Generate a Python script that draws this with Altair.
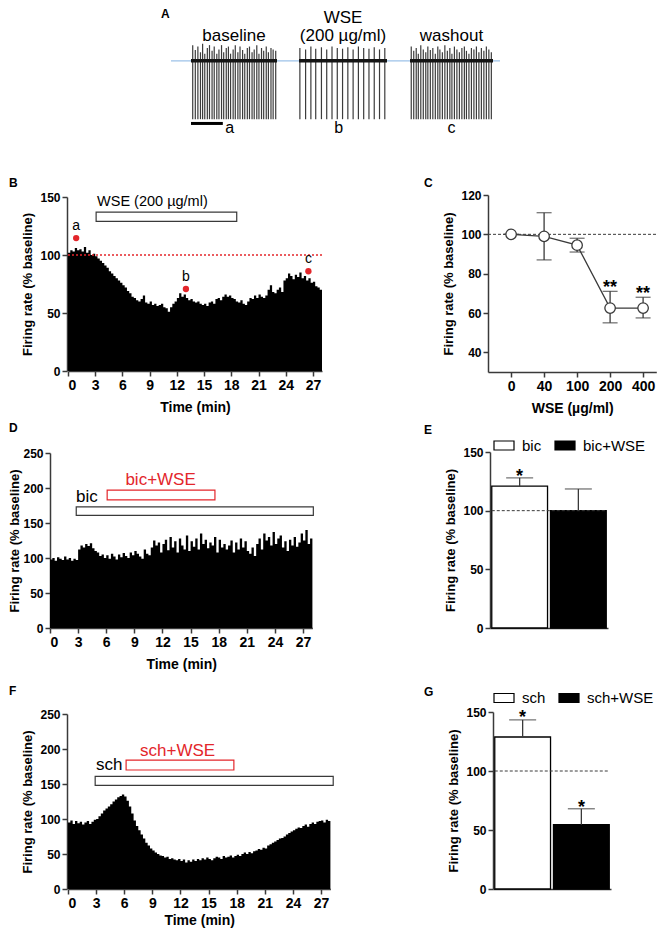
import altair as alt
import pandas as pd

W, H = 650, 920
FONT = "Liberation Sans"
AX = "#3a3a3a"
RED = "#e3262b"
BIN = 0.25
RECT_PATH = "M-1,-0.45L1,-0.45L1,0.45L-1,0.45Z"


def px(x):
    return x - 8


def py(y):
    return y - 8


# ---------------- data ----------------
# Panel A: spike times (fraction of displayed window) and spike peaks
base_t = [0.02, 0.05, 0.08, 0.11, 0.135, 0.16, 0.19, 0.215, 0.245, 0.27, 0.30, 0.325,
          0.355, 0.38, 0.41, 0.435, 0.46, 0.49, 0.515, 0.545, 0.57, 0.60, 0.625, 0.655,
          0.68, 0.71, 0.735, 0.765, 0.79, 0.82, 0.845, 0.875, 0.90, 0.93, 0.955, 0.985]
base_top = [0.22, 0.15, 0.2, 0.12, 0.24, 0.1, 0.18, 0.22, 0.14, 0.2, 0.1, 0.16,
            0.22, 0.12, 0.18, 0.2, 0.1, 0.16, 0.22, 0.12, 0.2, 0.15, 0.1, 0.18,
            0.2, 0.12, 0.16, 0.22, 0.1, 0.18, 0.14, 0.2, 0.12, 0.18, 0.16, 0.14]
wse_t = [0.01, 0.075, 0.135, 0.19, 0.255, 0.315, 0.375, 0.435, 0.495, 0.555, 0.615,
         0.675, 0.735, 0.795, 0.855, 0.915, 0.975]
wse_top = [0.18, 0.16, 0.2, 0.17, 0.19, 0.16, 0.2, 0.18, 0.17, 0.19, 0.16, 0.2, 0.18,
           0.17, 0.19, 0.16, 0.18]
wash_t = [0.015, 0.045, 0.075, 0.10, 0.13, 0.16, 0.19, 0.215, 0.245, 0.275, 0.305,
          0.335, 0.36, 0.39, 0.42, 0.45, 0.48, 0.505, 0.535, 0.565, 0.595, 0.625,
          0.655, 0.68, 0.71, 0.74, 0.77, 0.80, 0.83, 0.86, 0.89, 0.92, 0.95, 0.98]
wash_top = [0.2, 0.14, 0.18, 0.1, 0.22, 0.16, 0.12, 0.2, 0.15, 0.18, 0.1, 0.2, 0.16,
            0.12, 0.22, 0.14, 0.18, 0.1, 0.2, 0.16, 0.12, 0.18, 0.2, 0.14, 0.1, 0.18,
            0.16, 0.2, 0.12, 0.18, 0.14, 0.2, 0.16, 0.12]
spike_trough = -0.82

# Panel B: firing rate histogram, 0.25-min bins
b_vals = [102, 104, 103, 106, 104, 105, 103, 107, 102, 104, 100, 101,
          99, 97, 95, 93, 91, 89, 86, 84, 82, 80, 78, 76,
          74, 72, 69, 67, 64, 63, 61, 60, 62, 65, 59, 58,
          60, 57, 58, 56, 57, 58, 55, 54, 51, 55, 58, 60,
          63, 67, 64, 66, 63, 61, 62, 60, 59, 60, 58, 57,
          58, 56, 59, 60, 58, 62, 63, 61, 64, 66, 64, 65,
          63, 62, 60, 59, 61, 58, 57, 60, 63, 62, 65, 63,
          66, 64, 63, 65, 70, 74, 68, 67, 70, 72, 68, 78,
          80, 84, 82, 79, 83, 81, 85, 80, 82, 78, 80, 76,
          77, 73, 72, 70]
b_marks_t = [0.9, 13.0, 26.5]
b_marks_v = [114.6, 70.7, 86]
b_marks_lab = ["a", "b", "c"]
b_drug = [3.1, 18.6, 129, 137]  # start, end, low, high

# Panel C: dose response
c_dose = ["0", "40", "100", "200", "400"]
c_mean = [100, 99, 94.5, 62.5, 62.5]
c_lo = [100, 87, 91, 55, 57.5]
c_hi = [100, 111, 98, 71, 68]
c_sig = ["", "", "", "**", "**"]
c_sig_y = [None, None, None, 75.5, 72]

# Panel D: bicuculline histogram
d_vals = [98, 100, 96, 101, 99, 97, 102, 98, 100, 96, 99, 97,
          112, 118, 115, 120, 117, 121, 114, 110, 108, 103, 105, 100,
          104, 99, 106, 102, 98, 105, 101, 107, 103, 100, 108, 104,
          110, 106, 102, 99, 112, 106, 104, 115, 125, 118, 122, 108,
          120, 126, 111, 130, 115, 124, 108, 128, 118, 112, 132, 110,
          124, 116, 128, 112, 135, 120, 126, 114, 122, 118, 130, 108,
          126, 115, 120, 112, 118, 125, 108, 122, 112, 128, 115, 124,
          110, 106, 115, 103, 120, 128, 112, 135, 125, 130, 118, 137,
          120, 128, 132, 115, 124, 110, 126, 118, 130, 116, 122, 135,
          125, 140, 120, 128]
d_bic = [2.8, 28.1, 161, 173]
d_bicwse = [6.1, 17.6, 183, 197]

# Panel E
e_groups = ["bic", "bic+WSE"]
e_mean = [121, 100]
e_hi = [128, 118.5]
e_sig = ["*", ""]
e_sig_y = [133, None]

# Panel F: SCH histogram
f_vals = [95, 98, 93, 97, 94, 96, 92, 95, 97, 93, 96, 99,
          100, 104, 108, 112, 115, 118, 121, 125, 128, 131, 133, 135,
          132, 126, 118, 108, 98, 90, 84, 78, 72, 66, 62, 58,
          55, 52, 50, 48, 47, 45, 46, 43, 44, 42, 41, 43,
          40, 42, 38, 41, 39, 42, 40, 43, 41, 44, 42, 45,
          43, 41, 44, 46, 45, 43, 47, 45, 46, 48, 45, 47,
          49, 47, 50, 52, 50, 53, 51, 54, 55, 57, 56, 59,
          58, 62, 64, 66, 68, 70, 72, 73, 75, 78, 80, 82,
          84, 86, 88, 87, 90, 92, 89, 93, 95, 93, 96, 97,
          98, 95, 99, 97]
f_sch = [2.9, 28.3, 148, 161]
f_schwse = [6.2, 17.7, 170, 184]

# Panel G
g_groups = ["sch", "sch+WSE"]
g_mean = [128.8, 54.5]
g_hi = [143.3, 68]
g_sig = ["*", "*"]
g_sig_y = [149, 73]

# ---------------- helpers ----------------
def x_axis(ypage, title, values, size=14, pad=8, **kw):
    return alt.Axis(orient="bottom", offset=py(ypage) - H, title=title, values=values,
                    labelFontSize=size, titleFontSize=14, titlePadding=pad, **kw)


def y_axis(xpage, values, tpad=5):
    return alt.Axis(orient="left", offset=-px(xpage), values=values,
                    title="Firing rate (% baseline)", labelFontSize=12,
                    titleFontSize=13, titlePadding=tpad)


def lin(domain, r0, r1):
    return alt.Scale(domain=domain, range=[r0, r1], nice=False, zero=False)


def letter(ch, xpage, ypage):
    return alt.Chart(pd.DataFrame({"k": [0]})).mark_text(
        text=ch, fontSize=12, fontWeight="bold", align="left", baseline="top", font=FONT
    ).encode(x=alt.value(px(xpage)), y=alt.value(py(ypage)))


layers = []

# ---------------- Panel A ----------------
ya = lin([-1.0, 0.25], py(132), py(43))
layers.append(
    alt.Chart(pd.DataFrame({"v": [0]})).mark_rule(color="#9cc2e8", strokeWidth=1.2).encode(
        x=alt.value(px(171)), x2=alt.value(px(500)),
        y=alt.Y("v:Q", scale=ya, axis=None))
)
trace_defs = [(base_t, base_top, 191, 277, "baseline", None, "a", 0.45),
              (wse_t, wse_top, 299, 387, "WSE", "(200 µg/ml)", "b", 0.45),
              (wash_t, wash_top, 410, 493, "washout", None, "c", 0.5)]
for ts, tops, x0, x1, lab1, lab2, sub, subx in trace_defs:
    xs = lin([0, 1], px(x0), px(x1))
    sdf = pd.DataFrame({"t": ts, "top": tops, "bot": [spike_trough] * len(ts)})
    layers.append(alt.Chart(sdf).mark_rule(color="#3c3c3c", strokeWidth=1.2).encode(
        x=alt.X("t:Q", scale=xs, axis=None),
        y=alt.Y("top:Q", scale=ya, axis=None), y2="bot:Q"))
    layers.append(alt.Chart(pd.DataFrame({"t0": [0], "t1": [1], "v": [0]})).mark_rule(
        color="#151515", strokeWidth=3.5).encode(
        x=alt.X("t0:Q", scale=xs, axis=None), x2="t1:Q",
        y=alt.Y("v:Q", scale=ya, axis=None)))
    if lab2 is None:
        tdf = pd.DataFrame({"t": [0.5], "v": [0.35], "s": [lab1]})
    else:
        tdf = pd.DataFrame({"t": [0.5, 0.5], "v": [0.6, 0.35], "s": [lab1, lab2]})
    layers.append(alt.Chart(tdf).mark_text(fontSize=17, font=FONT, baseline="middle").encode(
        x=alt.X("t:Q", scale=xs, axis=None), y=alt.Y("v:Q", scale=ya, axis=None), text="s:N"))
    layers.append(alt.Chart(pd.DataFrame({"t": [subx], "v": [-0.95], "s": [sub]})).mark_text(
        fontSize=16, font=FONT, baseline="middle").encode(
        x=alt.X("t:Q", scale=xs, axis=None), y=alt.Y("v:Q", scale=ya, axis=None), text="s:N"))
    if sub == "a":
        layers.append(alt.Chart(pd.DataFrame({"t0": [0.0], "t1": [0.37], "v": [-0.88]})).mark_rule(
            color="black", strokeWidth=3).encode(
            x=alt.X("t0:Q", scale=xs, axis=None), x2="t1:Q",
            y=alt.Y("v:Q", scale=ya, axis=None)))
layers.append(letter("A", 161, 9))


# ---------------- histogram panels ----------------
def hist_panel(vals, xs, ys, xax, yax):
    n = len(vals)
    df = pd.DataFrame({"t": [i * BIN for i in range(n + 1)], "v": list(vals) + [vals[-1]]})
    return alt.Chart(df).mark_area(interpolate="step-after", color="black").encode(
        x=alt.X("t:Q", scale=xs, axis=xax), y=alt.Y("v:Q", scale=ys, axis=yax),
        y2=alt.datum(0))


def box(spec, xs, ys, color):
    df = pd.DataFrame({"x0": [spec[0]], "x1": [spec[1]], "y0": [spec[2]], "y1": [spec[3]]})
    return alt.Chart(df).mark_rect(fill="white", stroke=color, strokeWidth=1.2).encode(
        x=alt.X("x0:Q", scale=xs, axis=None), x2="x1:Q",
        y=alt.Y("y0:Q", scale=ys, axis=None), y2="y1:Q")


def label(txt, x, y, xs, ys, color="black", size=17, align="center", weight="normal"):
    df = pd.DataFrame({"x": [x], "y": [y], "s": [txt]})
    return alt.Chart(df).mark_text(fontSize=size, font=FONT, color=color, align=align,
                                   baseline="middle", fontWeight=weight).encode(
        x=alt.X("x:Q", scale=xs, axis=None), y=alt.Y("y:Q", scale=ys, axis=None), text="s:N")


# Panel B
xB = lin([0, 28], px(68), px(322))
yB = lin([0, 150], py(371), py(197))
layers.append(hist_panel(b_vals, xB, yB,
                         x_axis(371, "Time (min)", list(range(0, 28, 3))),
                         y_axis(67, [0, 50, 100, 150])))
layers.append(alt.Chart(pd.DataFrame({"x0": [0], "x1": [28], "y": [100]})).mark_rule(
    color=RED, strokeDash=[2, 2], strokeWidth=1.3).encode(
    x=alt.X("x0:Q", scale=xB, axis=None), x2="x1:Q", y=alt.Y("y:Q", scale=yB, axis=None)))
layers.append(box(b_drug, xB, yB, AX))
layers.append(label("WSE (200 µg/ml)", 3.2, 146, xB, yB, size=14.5, align="left"))
bm = pd.DataFrame({"t": b_marks_t, "v": b_marks_v, "s": b_marks_lab})
layers.append(alt.Chart(bm).mark_circle(color=RED, size=40, opacity=1).encode(
    x=alt.X("t:Q", scale=xB, axis=None), y=alt.Y("v:Q", scale=yB, axis=None)))
layers.append(alt.Chart(bm).mark_text(fontSize=14, font=FONT, dy=-12, baseline="middle").encode(
    x=alt.X("t:Q", scale=xB, axis=None), y=alt.Y("v:Q", scale=yB, axis=None), text="s:N"))
layers.append(letter("B", 9, 178))

# Panel C
xC = lin([-0.7, 4.4], px(488), px(656.3))
yC = lin([30, 120], py(372), py(195))
cdf = pd.DataFrame({"i": list(range(len(c_dose))), "m": c_mean, "lo": c_lo, "hi": c_hi})
label_expr = "[" + ",".join("'%s'" % d for d in c_dose) + "][datum.value]"
layers.append(alt.Chart(pd.DataFrame({"x0": [-0.7], "x1": [4.65], "y": [100]})).mark_rule(
    color=AX, strokeDash=[3, 2], strokeWidth=1).encode(
    x=alt.X("x0:Q", scale=xC, axis=x_axis(372, "WSE (µg/ml)", list(range(5)), labelExpr=label_expr)),
    x2="x1:Q",
    y=alt.Y("y:Q", scale=yC, axis=alt.Axis(orient="left", offset=-px(488), values=[40, 60, 80, 100, 120],
                                            title="Firing rate (% baseline)", labelFontSize=12,
                                            titleFontSize=13, titlePadding=5))))
layers.append(alt.Chart(cdf).mark_rule(color=AX, strokeWidth=1.3).encode(
    x=alt.X("i:Q", scale=xC, axis=None), y=alt.Y("lo:Q", scale=yC, axis=None), y2="hi:Q"))
for col in ["lo", "hi"]:
    layers.append(alt.Chart(cdf).mark_tick(orient="horizontal", size=15, thickness=1.3, color=AX).encode(
        x=alt.X("i:Q", scale=xC, axis=None), y=alt.Y(col + ":Q", scale=yC, axis=None)))
layers.append(alt.Chart(cdf).mark_line(color=AX, strokeWidth=1.3).encode(
    x=alt.X("i:Q", scale=xC, axis=None), y=alt.Y("m:Q", scale=yC, axis=None)))
layers.append(alt.Chart(cdf).mark_circle(size=110, fill="white", stroke=AX, strokeWidth=1.3, opacity=1).encode(
    x=alt.X("i:Q", scale=xC, axis=None), y=alt.Y("m:Q", scale=yC, axis=None)))
sig = pd.DataFrame({"i": list(range(len(c_dose))), "y": c_sig_y, "s": c_sig}).dropna()
layers.append(alt.Chart(sig).mark_text(fontSize=18, font=FONT, fontWeight="bold", baseline="alphabetic", dy=10).encode(
    x=alt.X("i:Q", scale=xC, axis=None), y=alt.Y("y:Q", scale=yC, axis=None), text="s:N"))
layers.append(letter("C", 424, 178))

# Panel D
xD = lin([0, 28], px(50), px(312.4))
yD = lin([0, 250], py(628), py(453))
layers.append(hist_panel(d_vals, xD, yD,
                         x_axis(628, "Time (min)", list(range(0, 28, 3))),
                         y_axis(50, [0, 50, 100, 150, 200, 250], tpad=1)))
layers.append(box(d_bic, xD, yD, AX))
layers.append(box(d_bicwse, xD, yD, RED))
layers.append(label("bic", 5.1, 187, xD, yD, align="right"))
layers.append(label("bic+WSE", 11.8, 211, xD, yD, color=RED))
layers.append(letter("D", 9, 423))


# ---------------- bar panels ----------------
def bar_panel(groups, means, his, sig, sig_y, x0, x1, ybot, ytop, axis_x, leg_y):
    xs = alt.Scale(domain=groups, range=[px(x0), px(x1)], paddingInner=0.05, paddingOuter=0.03)
    ys = lin([0, 150], py(ybot), py(ytop))
    df = pd.DataFrame({"g": groups, "m": means, "hi": his})
    out = []
    out.append(alt.Chart(df).mark_bar(stroke="black", strokeWidth=1.3).encode(
        x=alt.X("g:N", scale=xs, axis=alt.Axis(orient="bottom", offset=py(ybot) - H, labels=False,
                                               ticks=False, title=None)),
        y=alt.Y("m:Q", scale=ys, axis=alt.Axis(orient="left", offset=-px(axis_x), values=[0, 50, 100, 150],
                                               title="Firing rate (% baseline)", labelFontSize=12,
                                               titleFontSize=13, titlePadding=5)),
        y2=alt.datum(0),
        fill=alt.Fill("g:N", scale=alt.Scale(domain=groups, range=["white", "black"]),
                      legend=alt.Legend(orient="none", legendX=px(493), legendY=py(leg_y) - 10,
                                        direction="horizontal", title=None, symbolType=RECT_PATH,
                                        symbolSize=400, symbolStrokeColor="black", symbolStrokeWidth=1.2,
                                        labelFontSize=15, labelFont=FONT, labelColor="black",
                                        labelOffset=7, columnPadding=10, padding=0))))
    ref = pd.DataFrame({"g0": [groups[0]], "g1": [groups[-1]], "y": [100]})
    out.append(alt.Chart(ref).mark_rule(color=AX, strokeDash=[3, 2], strokeWidth=1).encode(
        x=alt.X("g0:N", scale=xs, axis=None, bandPosition=0),
        x2=alt.X2("g1", bandPosition=1),
        y=alt.Y("y:Q", scale=ys, axis=None)))
    out.append(alt.Chart(df).mark_rule(color=AX, strokeWidth=1.3).encode(
        x=alt.X("g:N", scale=xs, axis=None), y=alt.Y("m:Q", scale=ys, axis=None), y2="hi:Q"))
    out.append(alt.Chart(df).mark_tick(orient="horizontal", size=27, thickness=1.3, color=AX).encode(
        x=alt.X("g:N", scale=xs, axis=None), y=alt.Y("hi:Q", scale=ys, axis=None)))
    sdf = pd.DataFrame({"g": groups, "y": sig_y, "s": sig}).dropna()
    out.append(alt.Chart(sdf).mark_text(fontSize=18, font=FONT, fontWeight="bold", baseline="alphabetic", dy=10).encode(
        x=alt.X("g:N", scale=xs, axis=None), y=alt.Y("y:Q", scale=ys, axis=None), text="s:N"))
    return out


layers += bar_panel(e_groups, e_mean, e_hi, e_sig, e_sig_y, 490, 608, 628, 452, 490, 444.5)
layers.append(letter("E", 424, 425))

# Panel F
xF = lin([0, 28], px(68), px(330.4))
yF = lin([0, 250], py(889), py(714))
layers.append(hist_panel(f_vals, xF, yF,
                         x_axis(889, "Time (min)", list(range(0, 28, 3)), pad=3),
                         y_axis(67, [0, 50, 100, 150, 200, 250])))
layers.append(box(f_sch, xF, yF, AX))
layers.append(box(f_schwse, xF, yF, RED))
layers.append(label("sch", 5.8, 177, xF, yF, align="right"))
layers.append(label("sch+WSE", 11.7, 197, xF, yF, color=RED))
layers.append(letter("F", 9, 686))

layers += bar_panel(g_groups, g_mean, g_hi, g_sig, g_sig_y, 493, 611, 889, 712, 493, 697)
layers.append(letter("G", 424, 687))

chart = alt.layer(*layers).resolve_scale(
    x="independent", y="independent", fill="independent"
).resolve_axis(x="independent", y="independent").resolve_legend(fill="independent").properties(
    width=W, height=H, padding=0, autosize=alt.AutoSizeParams(type="none")
).configure_view(stroke=None).configure_axis(
    domainColor=AX, domainWidth=1.5, tickColor=AX, tickWidth=1.5, tickSize=5,
    labelFont=FONT, titleFont=FONT, labelFontWeight="bold", titleFontWeight="bold",
    labelColor="black", titleColor="black", grid=False, labelPadding=2
).configure_text(font=FONT)

chart.save("out.html", embed_options={"renderer": "svg", "actions": False})
